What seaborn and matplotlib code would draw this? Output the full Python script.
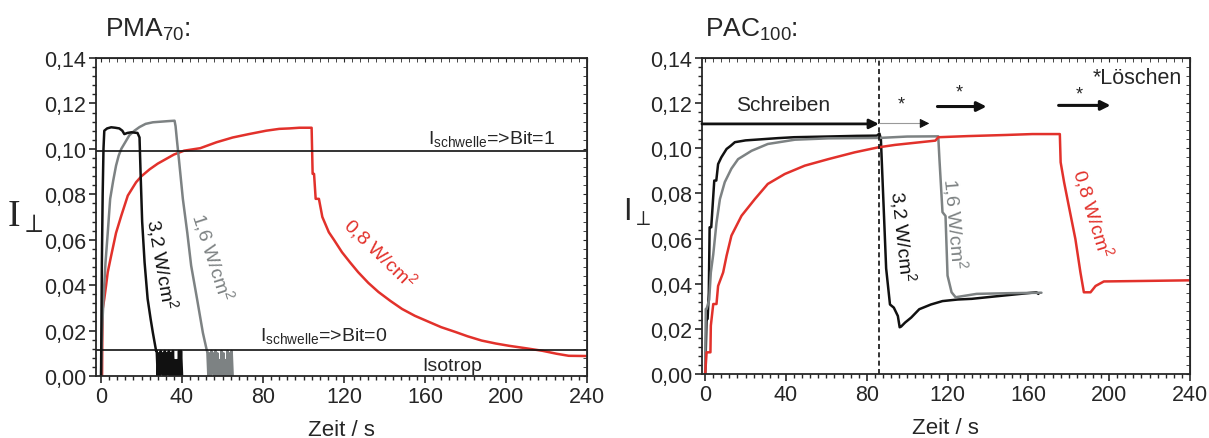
# encoding: utf-8
# Libraries
import matplotlib
matplotlib.use("Agg")
import matplotlib.pyplot as plt
from matplotlib.ticker import MultipleLocator, FuncFormatter
import seaborn as sns
import pandas as pd

# ---------------- data ----------------
# PMA70, 3.2 W/cm2 (black)
pma_t_32 = [0, 0.4, 0.8, 1.2, 1.6, 3, 5, 7, 9, 10.5, 11.5, 13, 15, 18, 19, 19.5,
            20.3, 21.5, 23, 24.5, 25.6, 27.2,
            27.5, 28, 28.5, 29, 29.5, 30, 30.5, 31, 31.5, 32, 32.5, 33, 33.5, 34,
            34.5, 35, 35.5, 36, 36.5, 37, 37.5, 38, 38.5, 39, 39.5, 40]
pma_i_32 = [0, 0.05, 0.08, 0.10, 0.108, 0.109, 0.1095, 0.1093, 0.109, 0.108, 0.1065,
            0.107, 0.1073, 0.107, 0.105, 0.09, 0.068, 0.05, 0.034, 0.025, 0.019, 0.011,
            0.011, 0.0, 0.010, 0.0, 0.011, 0.001, 0.010, 0.0, 0.011, 0.0, 0.010, 0.001,
            0.011, 0.0, 0.010, 0.0, 0.011, 0.0, 0.007, 0.0, 0.007, 0.0, 0.011, 0.0,
            0.011, 0.0]

# PMA70, 1.6 W/cm2 (grey)
pma_t_16 = [0, 0.5, 1.2, 2.2, 3.3, 4.5, 6, 7.4, 8.7, 10, 12, 14, 16.5, 19, 22, 25.6,
            30, 33, 36.3, 36.8, 37.5, 38.5, 40.4, 42.6, 44.5, 47.4, 50.3, 52.3,
            52.5, 53, 53.5, 54, 54.5, 55, 55.5, 56, 56.5, 57, 57.5, 58, 58.5, 59,
            59.5, 60, 60.5, 61, 61.5, 62, 62.5, 63, 63.5, 64, 64.5, 65]
pma_i_16 = [0, 0.02, 0.034, 0.05, 0.063, 0.078, 0.086, 0.0926, 0.097, 0.1, 0.103,
            0.106, 0.108, 0.1096, 0.111, 0.1117, 0.112, 0.1122, 0.1124, 0.11, 0.1036,
            0.095, 0.078, 0.063, 0.0486, 0.034, 0.019, 0.011,
            0.011, 0.0, 0.010, 0.0, 0.011, 0.001, 0.010, 0.0, 0.011, 0.0, 0.010, 0.0,
            0.007, 0.0, 0.011, 0.0, 0.010, 0.0, 0.007, 0.0, 0.011, 0.0, 0.010, 0.0,
            0.011, 0.0]

# PMA70, 0.8 W/cm2 (red)
pma_t_08 = [0.5, 0.6, 0.8, 1.6, 2.5, 3.3, 5, 7.4, 10, 13.2, 17.3, 20, 24, 28, 32, 36,
            41, 49, 57, 65, 73, 81.6, 88, 93, 98, 104, 104.5, 105.2, 106, 107.6,
            109.3, 112.5, 115, 119, 123, 127, 132, 137, 143, 148.7, 155, 162, 168,
            175, 181, 188, 195, 201.5, 210, 218, 225, 231, 240]
pma_i_08 = [0, 0.015, 0.0295, 0.034, 0.04, 0.0457, 0.053, 0.063, 0.0706, 0.0794,
            0.0853, 0.088, 0.091, 0.0935, 0.0955, 0.0975, 0.0992, 0.1003, 0.1029,
            0.105, 0.1065, 0.108, 0.1088, 0.109, 0.1093, 0.1093, 0.089, 0.089, 0.078,
            0.078, 0.07, 0.0633, 0.06, 0.0545, 0.05, 0.0457, 0.041, 0.037, 0.033,
            0.0295, 0.0265, 0.0238, 0.0215, 0.0194, 0.0175, 0.0156, 0.0143, 0.0133,
            0.0122, 0.0111, 0.0098, 0.0089, 0.0088]

# PAC100, 3.2 W/cm2 (black)
pac_t_32 = [0, 0.7, 1.2, 1.8, 2.2, 3, 4.5, 5.5, 6.4, 8, 10.6, 12.5, 14.7, 20, 28, 36,
            44, 60, 75, 85, 86.3, 87.0, 89.6, 91.5, 93.4, 95.4, 96.3, 97, 99, 102,
            106, 111.8, 117.5, 125, 132, 145, 164, 165]
pac_i_32 = [0, 0.0244, 0.0244, 0.036, 0.065, 0.065, 0.0857, 0.0857, 0.093, 0.096,
            0.0997, 0.101, 0.1027, 0.1035, 0.104, 0.1045, 0.1049, 0.1052, 0.1055,
            0.1056, 0.1065, 0.104, 0.0468, 0.0308, 0.0294, 0.0257, 0.0207, 0.021,
            0.0228, 0.025, 0.0287, 0.0308, 0.0323, 0.033, 0.0333, 0.0345, 0.0362,
            0.0355]

# PAC100, 1.6 W/cm2 (grey)
pac_t_16 = [0, 0.3, 0.7, 2, 2.8, 4, 5.6, 7.3, 9.7, 13, 16.3, 23, 31, 44.4, 61, 86.5,
            100, 115.4, 116, 117.5, 119, 120, 122, 124, 134.4, 150, 166.5]
pac_i_16 = [0, 0.0288, 0.0288, 0.033, 0.045, 0.053, 0.067, 0.0775, 0.085, 0.091,
            0.0952, 0.0989, 0.1019, 0.1038, 0.1044, 0.1046, 0.1052, 0.1053, 0.095,
            0.0717, 0.07, 0.0436, 0.0362, 0.034, 0.0355, 0.0358, 0.036]

# PAC100, 0.8 W/cm2 (red)
pac_t_08 = [0, 0.7, 2.6, 2.8, 4, 5.6, 6.4, 8.9, 10.6, 13, 18, 24.6, 31, 39.4, 49.3,
            61, 74, 85.6, 94, 114, 115.4, 130, 149, 162, 175.6, 176, 177.7, 180,
            183.3, 185.8, 187.5, 190.8, 193.3, 197.4, 215, 240]
pac_i_08 = [0, 0.0096, 0.0096, 0.0214, 0.031, 0.031, 0.039, 0.045, 0.0524, 0.0613,
            0.0701, 0.0775, 0.0842, 0.0886, 0.0923, 0.0952, 0.0982, 0.1004, 0.1015,
            0.1034, 0.1049, 0.1054, 0.1059, 0.1063, 0.1063, 0.0938, 0.085, 0.0746,
            0.0598, 0.045, 0.0362, 0.0362, 0.039, 0.041, 0.0412, 0.0415]

# thresholds, marker line and arrows
bit1_level = 0.099
bit0_level = 0.0115
write_end = 86
erase_arrows = [(86, 111, 0.111), (115, 139.3, 0.1185), (175, 200.7, 0.119)]
star_pos = [(97.2, 0.1196), (125.6, 0.1248), (185, 0.124)]

RED = "#e2312b"
GREY = "#7d8283"
BLACK = "#111111"

# ---------------- style ----------------
sns.set_style("ticks")
plt.rcParams["font.family"] = ["Liberation Sans", "DejaVu Sans"]
plt.rcParams["mathtext.fontset"] = "custom"
plt.rcParams["mathtext.rm"] = "Liberation Sans"
plt.rcParams["mathtext.it"] = "Liberation Sans:italic"
plt.rcParams["mathtext.bf"] = "Liberation Sans:bold"

fig = plt.figure(figsize=(12.09, 4.39), dpi=100)
ax1 = fig.add_axes([0.0794, 0.1412, 0.4061, 0.7244])
ax2 = fig.add_axes([0.5806, 0.1458, 0.4036, 0.7198])

comma = FuncFormatter(lambda v, p: f"{v:.2f}".replace(".", ","))


def draw(ax, t, i, color):
    df = pd.DataFrame({"t": t, "i": i})
    sns.lineplot(data=df, x="t", y="i", ax=ax, color=color, lw=1.8,
                 estimator=None, sort=False)


def style_axes(ax, xmin):
    ax.set_xlim(xmin, 240)
    ax.set_ylim(0, 0.14)
    ax.xaxis.set_major_locator(MultipleLocator(40))
    ax.xaxis.set_minor_locator(MultipleLocator(4))
    ax.yaxis.set_major_locator(MultipleLocator(0.02))
    ax.yaxis.set_minor_locator(MultipleLocator(0.004))
    ax.yaxis.set_major_formatter(comma)
    ax.tick_params(which="major", direction="out", length=5, width=1.2,
                   labelsize=15.5, pad=2)
    ax.tick_params(which="minor", direction="out", length=3, width=1)
    for s in ax.spines.values():
        s.set_linewidth(1.3)
        s.set_visible(True)
    # mirrored ticks on top / right, pointing inward
    top = ax.secondary_xaxis("top")
    top.xaxis.set_major_locator(MultipleLocator(40))
    top.xaxis.set_minor_locator(MultipleLocator(4))
    top.tick_params(which="both", direction="in", labeltop=False, length=3)
    right = ax.secondary_yaxis("right")
    right.yaxis.set_major_locator(MultipleLocator(0.02))
    right.yaxis.set_minor_locator(MultipleLocator(0.004))
    right.tick_params(which="both", direction="in", labelright=False, length=3)
    ax.set_xlabel("Zeit / s", fontsize=16, labelpad=9)
    ax.set_ylabel("")


# ---------------- left: PMA70 ----------------
draw(ax1, pma_t_08, pma_i_08, RED)
draw(ax1, pma_t_16, pma_i_16, GREY)
draw(ax1, pma_t_32, pma_i_32, BLACK)
ax1.axhline(bit1_level, color=BLACK, lw=1.2)
ax1.axhline(bit0_level, color=BLACK, lw=1.2)
style_axes(ax1, -2.5)

ax1.text(193, 0.1005, r"I$_{\mathrm{schwelle}}$=>Bit=1", fontsize=14,
         ha="center", va="bottom")
ax1.text(110, 0.0135, r"I$_{\mathrm{schwelle}}$=>Bit=0", fontsize=14,
         ha="center", va="bottom")
ax1.text(173.5, 0.0045, "Isotrop", fontsize=14, ha="center", va="center")
ax1.text(30, 0.050, r"3,2 W/cm$^{2}$", fontsize=14, color=BLACK, rotation=-80,
         ha="center", va="center", rotation_mode="anchor")
ax1.text(55, 0.053, r"1,6 W/cm$^{2}$", fontsize=14, color=GREY, rotation=-72,
         ha="center", va="center", rotation_mode="anchor")
ax1.text(138, 0.0546, r"0,8 W/cm$^{2}$", fontsize=14, color=RED, rotation=-44,
         ha="center", va="center", rotation_mode="anchor")

# ---------------- right: PAC100 ----------------
draw(ax2, pac_t_32, pac_i_32, BLACK)
draw(ax2, pac_t_16, pac_i_16, GREY)
draw(ax2, pac_t_08, pac_i_08, RED)
ax2.axvline(write_end, color=BLACK, lw=1.2, ls=(0, (3, 2)))
style_axes(ax2, -1.6)

ax2.annotate("", xy=(write_end, 0.1108), xytext=(-1.6, 0.1108),
             arrowprops=dict(arrowstyle="-|>", color=BLACK, lw=2,
                             mutation_scale=14, shrinkA=0, shrinkB=0))
for k, (x0, x1, y) in enumerate(erase_arrows):
    if k == 0:
        ax2.plot([x0, x1 - 3], [y, y], color="#999999", lw=0.8)
        ax2.annotate("", xy=(x1, y), xytext=(x1 - 3, y),
                     arrowprops=dict(arrowstyle="-|>", color=BLACK, lw=0.8,
                                     mutation_scale=14, shrinkA=0, shrinkB=0))
    else:
        ax2.annotate("", xy=(x1, y), xytext=(x0, y),
                     arrowprops=dict(arrowstyle="-|>", color=BLACK, lw=2.2,
                                     mutation_scale=14, shrinkA=0, shrinkB=0))
for x, y in star_pos:
    ax2.text(x, y, "*", fontsize=13, ha="center", va="center")

ax2.text(38.5, 0.1196, "Schreiben", fontsize=15, ha="center", va="center")
ax2.text(236, 0.1314, "*Löschen", fontsize=15.5, ha="right", va="center")
ax2.text(98, 0.0613, r"3,2 W/cm$^{2}$", fontsize=14, color=BLACK, rotation=-84,
         ha="center", va="center", rotation_mode="anchor")
ax2.text(123.6, 0.067, r"1,6 W/cm$^{2}$", fontsize=14, color=GREY, rotation=-85,
         ha="center", va="center", rotation_mode="anchor")
ax2.text(192, 0.0717, r"0,8 W/cm$^{2}$", fontsize=14, color=RED, rotation=-73,
         ha="center", va="center", rotation_mode="anchor")

# ---------------- titles and y labels ----------------
fig.text(0.087, 0.932, r"PMA$_{\mathrm{70}}$:", fontsize=19, ha="left", va="center")
fig.text(0.583, 0.932, r"PAC$_{\mathrm{100}}$:", fontsize=19, ha="left", va="center")
fig.text(0.006, 0.505, r"I$_{\perp}$", fontsize=27, fontfamily="Liberation Serif",
         ha="left", va="center")
fig.text(0.515, 0.515, r"I$_{\perp}$", fontsize=22, ha="left", va="center")

fig.savefig("out.png", dpi=100)
